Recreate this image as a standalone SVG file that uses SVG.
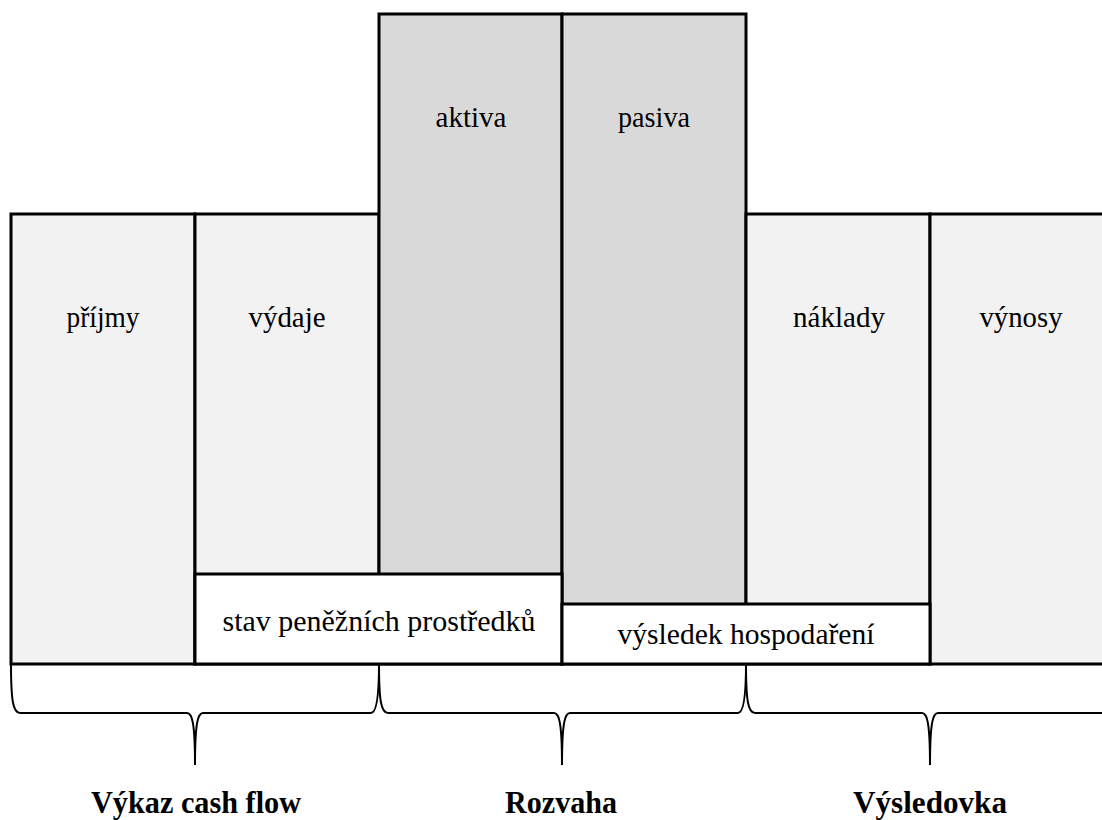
<svg xmlns="http://www.w3.org/2000/svg" width="1102" height="820" viewBox="0 0 1102 820">
<style>
.box{stroke:#000;stroke-width:3}
.light{fill:#f2f2f2}
.dark{fill:#d9d9d9}
.white{fill:#fff}
.t{font-family:"Liberation Serif","Times New Roman",serif;font-size:30px;fill:#000;text-anchor:middle}
.h{font-family:"Liberation Serif","Times New Roman",serif;font-size:32px;font-weight:bold;fill:#000;text-anchor:middle}
.brace{fill:none;stroke:#000;stroke-width:2}
</style>
<rect width="1102" height="820" fill="#fff"/>
<g id="prijmy"><rect class="box light" x="11" y="214" width="184" height="450"/><text class="t" x="103" y="327" textLength="73" lengthAdjust="spacingAndGlyphs">příjmy</text></g>
<g id="vydaje"><rect class="box light" x="195" y="214" width="184" height="450"/><text class="t" x="287" y="327" textLength="77" lengthAdjust="spacingAndGlyphs">výdaje</text></g>
<g id="aktiva"><rect class="box dark" x="379" y="14" width="183" height="650"/><text class="t" x="471" y="127" textLength="71" lengthAdjust="spacingAndGlyphs">aktiva</text></g>
<g id="pasiva"><rect class="box dark" x="562" y="14" width="184" height="650"/><text class="t" x="654" y="127" textLength="72" lengthAdjust="spacingAndGlyphs">pasiva</text></g>
<g id="naklady"><rect class="box light" x="746" y="214" width="184" height="450"/><text class="t" x="839" y="327" textLength="92" lengthAdjust="spacingAndGlyphs">náklady</text></g>
<g id="vynosy"><rect class="box light" x="930" y="214" width="185" height="450"/><text class="t" x="1021" y="327" textLength="83" lengthAdjust="spacingAndGlyphs">výnosy</text></g>
<g id="stav"><rect class="box white" x="195" y="574" width="367" height="90"/><text class="t" x="379" y="631" textLength="313" lengthAdjust="spacingAndGlyphs">stav peněžních prostředků</text></g>
<g id="vysledek"><rect class="box white" x="562" y="604" width="368" height="60"/><text class="t" x="746" y="644" textLength="257" lengthAdjust="spacingAndGlyphs">výsledek hospodaření</text></g>
<g id="connectors">
<path class="brace" d="M11,664 C11,700 13,713 20,713 L187,713 C192,713 195,722 195,765 C195,722 198,713 203,713 L371,713 C376,713 379,700 379,664"/>
<path class="brace" d="M379,664 C379,700 381,713 388,713 L554,713 C559,713 562,722 562,765 C562,722 565,713 570,713 L738,713 C743,713 746,700 746,664"/>
<path class="brace" d="M746,664 C746,700 748,713 755,713 L922,713 C927,713 930,722 930,765 C930,722 933,713 938,713 L1106,713 C1111,713 1114,700 1114,664"/>
</g>
<g id="labels">
<text class="h" x="196" y="813" textLength="210" lengthAdjust="spacingAndGlyphs">Výkaz cash flow</text>
<text class="h" x="561" y="813" textLength="112" lengthAdjust="spacingAndGlyphs">Rozvaha</text>
<text class="h" x="930" y="813" textLength="154" lengthAdjust="spacingAndGlyphs">Výsledovka</text>
</g>
</svg>
